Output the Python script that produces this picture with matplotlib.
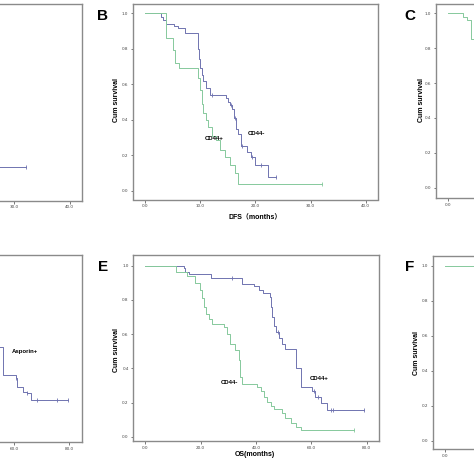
import matplotlib
matplotlib.use('Agg')
import matplotlib.pyplot as plt
import numpy as np

W, H = 474, 474
BLUE = '#6f73b0'
GREEN = '#86c99c'

# ---- data (time in months, cumulative survival) ----
# panel A (only the tail is visible)
a_t = [26.0, 32.2]
a_s = [0.135, 0.135]
a_cens = [32.2]

# panel B, DFS
b_neg_t = [0, 2.9, 3.3, 3.9, 5.3, 6.0, 7.2, 9.6, 9.8, 10.0, 10.3, 10.6, 11.0, 11.8,
           14.6, 15.1, 15.4, 15.8, 16.2, 16.5, 16.8, 17.4, 18.4, 19.3, 20.0, 22.2, 23.7]
b_neg_s = [1.0, 0.98, 0.96, 0.94, 0.93, 0.915, 0.89, 0.80, 0.74, 0.69, 0.65, 0.62, 0.58, 0.54,
           0.52, 0.50, 0.48, 0.46, 0.41, 0.35, 0.32, 0.25, 0.22, 0.19, 0.145, 0.075, 0.075]
b_neg_cens = [12.2, 15.6, 16.3, 17.5, 19.4, 21.0, 23.7]
b_pos_t = [0, 3.9, 5.1, 5.4, 6.2, 9.7, 10.0, 10.3, 10.6, 11.0, 11.5, 12.2, 12.8, 13.6,
           14.5, 15.4, 16.3, 16.9, 32.0]
b_pos_s = [1.0, 0.86, 0.795, 0.72, 0.69, 0.635, 0.57, 0.49, 0.44, 0.40, 0.36, 0.31, 0.285, 0.23,
           0.19, 0.145, 0.10, 0.04, 0.04]
b_pos_cens = [32.0]

# panel C (only the start is visible)
c_t = [0, 2.8, 3.4, 4.2, 4.9]
c_s = [1.0, 0.98, 0.96, 0.85, 0.85]

# panel D, Asporin+ tail
d_t = [50.0, 56.1, 60.6, 61.2, 63.4, 64.6, 66.1, 79.5]
d_s = [0.52, 0.36, 0.34, 0.29, 0.26, 0.25, 0.21, 0.21]
d_cens = [60.6, 64.6, 68.3, 75.5, 79.5]

# panel E, OS
e_pos_t = [0, 13.9, 14.5, 15.7, 23.6, 35.0, 39.3, 41.1, 42.7, 45.1, 45.5, 45.9, 46.4, 47.1,
           48.2, 49.5, 50.7, 54.4, 56.4, 60.4, 61.4, 63.4, 65.6, 79.1]
e_pos_s = [1.0, 0.985, 0.965, 0.95, 0.93, 0.895, 0.88, 0.86, 0.84, 0.82, 0.76, 0.70, 0.65, 0.61,
           0.575, 0.54, 0.515, 0.40, 0.29, 0.265, 0.23, 0.195, 0.155, 0.155]
e_pos_cens = [31.4, 48.0, 61.0, 62.5, 67.0, 68.0, 79.1]
e_neg_t = [0, 11.2, 15.1, 18.1, 19.9, 20.5, 21.1, 22.0, 23.0, 24.2, 28.4, 29.6, 30.8, 32.6,
           33.8, 34.4, 35.0, 40.5, 41.7, 42.9, 44.1, 45.3, 46.5, 49.5, 50.7, 52.6, 54.4, 56.4, 75.5]
e_neg_s = [1.0, 0.965, 0.94, 0.90, 0.86, 0.81, 0.76, 0.72, 0.69, 0.66, 0.64, 0.60, 0.545, 0.51,
           0.45, 0.35, 0.31, 0.29, 0.265, 0.235, 0.205, 0.18, 0.16, 0.137, 0.107, 0.078, 0.055, 0.04, 0.04]
e_neg_cens = [75.5]

# panel F (only the start is visible)
f_t = [0, 12.0]
f_s = [1.0, 1.0]

ticks40 = [0, 10, 20, 30, 40]
ticks80 = [0, 20, 40, 60, 80]
yticks = [0.0, 0.2, 0.4, 0.6, 0.8, 1.0]

fig = plt.figure(figsize=(W / 100, H / 100), dpi=100)
fig.patch.set_facecolor('white')


def px_axes(left, top, right, bottom, xlim, ylim, xticks):
    ax = fig.add_axes([left / W, 1 - bottom / H, (right - left) / W, (bottom - top) / H])
    ax.set_xlim(*xlim)
    ax.set_ylim(*ylim)
    ax.set_xticks(xticks)
    ax.set_xticklabels(['%.1f' % v for v in xticks])
    ax.set_yticks(yticks)
    ax.set_yticklabels(['%.1f' % v for v in yticks])
    ax.tick_params(labelsize=3, length=1.8, width=0.5, pad=1.5, colors='#444444')
    for s in ax.spines.values():
        s.set_color('#8a8a8a')
        s.set_linewidth(1.0)
    return ax


def km(ax, t, s, c, cens=None):
    ax.step(t, s, where='post', color=c, lw=0.7)
    if cens:
        idx = np.searchsorted(t, cens, side='right') - 1
        ax.plot(cens, [s[i] for i in idx], ls='none', marker='|', ms=2.2, mew=0.6, color=c)


lab = dict(fontsize=4.3, fontweight='bold', family=['Liberation Sans', 'DejaVu Sans'])
axlab = dict(fontsize=5, fontweight='bold', family=['Liberation Sans', 'Noto Sans CJK SC'])
letter = dict(fontsize=11, fontweight='bold', family=['Liberation Sans', 'DejaVu Sans'])

# A
ax = px_axes(-163.7, 4, 81.7, 200.7, (-2.2, 42.2), (-0.052, 1.055), ticks40)
km(ax, a_t, a_s, BLUE, a_cens)

# B
ax = px_axes(132.7, 4, 378, 199.5, (-2.2, 42.2), (-0.05, 1.052), ticks40)
km(ax, b_neg_t, b_neg_s, BLUE, b_neg_cens)
km(ax, b_pos_t, b_pos_s, GREEN, b_pos_cens)
ax.text(12.5, 0.295, 'CD44+', ha='center', va='center', **lab)
ax.text(20.2, 0.32, 'CD44-', ha='center', va='center', **lab)

# C
ax = px_axes(435.7, 4, 680.7, 198, (-2.2, 42.2), (-0.059, 1.053), ticks40)
km(ax, c_t, c_s, GREEN)

# D
ax = px_axes(-162.8, 255, 81.7, 442, (-4.3, 84.6), (-0.035, 1.063), ticks80)
km(ax, d_t, d_s, BLUE, d_cens)
ax.text(64.0, 0.495, 'Asporin+', ha='center', va='center', **lab)

# E
ax = px_axes(133.3, 255, 379.3, 441, (-4.3, 84.6), (-0.025, 1.063), ticks80)
km(ax, e_pos_t, e_pos_s, BLUE, e_pos_cens)
km(ax, e_neg_t, e_neg_s, GREEN, e_neg_cens)
ax.text(63.0, 0.34, 'CD44+', ha='center', va='center', **lab)
ax.text(30.6, 0.32, 'CD44-', ha='center', va='center', **lab)

# F
ax = px_axes(432.7, 256, 678.7, 449.3, (-4.46, 84.5), (-0.049, 1.055), ticks80)
km(ax, f_t, f_s, GREEN)

# axis titles and panel letters, placed in pixel coordinates
def ftext(x, y, s, **kw):
    fig.text(x / W, 1 - y / H, s, **kw)

ftext(255, 218, 'DFS（months）', ha='center', va='center', **axlab)
ftext(255, 455, 'OS(months)', ha='center', va='center', **axlab)
for x, y in [(116.7, 100), (421.7, 100), (116.7, 350), (416.7, 353)]:
    ftext(x, y, 'Cum survival', ha='center', va='center', rotation=90, **axlab)
for x, y, s in [(103, 16, 'B'), (410, 16, 'C'), (103, 267, 'E'), (410, 267, 'F')]:
    ftext(x, y, s, ha='center', va='center', **letter)

fig.savefig('out.png', dpi=100)
